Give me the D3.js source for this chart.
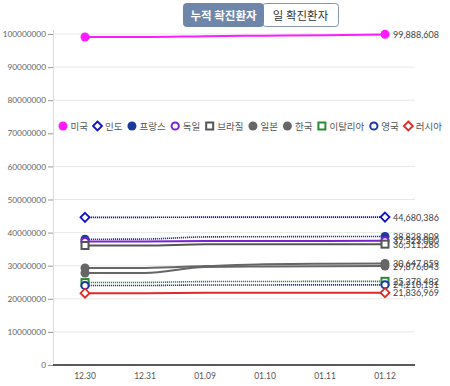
<!DOCTYPE html>
<html><head><meta charset="utf-8">
<script src="https://cdn.jsdelivr.net/npm/d3@7"></script>
<style>
body{margin:0;background:#fff;font-family:Lato,"Noto Sans CJK KR",sans-serif;}
svg{display:block}
</style></head>
<body><svg id="c" width="450" height="386"></svg>
<script>
const dates = ["12.30","12.31","01.09","01.10","01.11","01.12"];
const countries = ["미국","인도","프랑스","독일","브라질","일본","한국","이탈리아","영국","러시아"];
const usa     = [99100000, 99120000, 99350000, 99500000, 99650000, 99888608];
const india   = [44600000, 44610000, 44670000, 44675000, 44678000, 44680386];
const france  = [38000000, 38050000, 38700000, 38750000, 38800000, 38828809];
const germany = [37300000, 37320000, 37450000, 37480000, 37500000, 37523000];
const brazil  = [36100000, 36120000, 36450000, 36480000, 36500000, 36511286];
const japan   = [29300000, 29320000, 29900000, 30450000, 30600000, 30647859];
const korea   = [27800000, 27820000, 29600000, 29750000, 29850000, 29876043];
const italy   = [24900000, 24950000, 25200000, 25230000, 25260000, 25278482];
const uk      = [24000000, 24020000, 24180000, 24190000, 24200000, 24210131];
const russia  = [21700000, 21710000, 21800000, 21815000, 21826000, 21836969];
const yTicks  = [0,10000000,20000000,30000000,40000000,50000000,60000000,70000000,80000000,90000000,100000000];
const buttons = ["누적 확진환자","일 확진환자"];

const seriesValues = [usa,india,france,germany,brazil,japan,korea,italy,uk,russia];
const colors  = ["#ff1aff","#1010c8","#1c3a9e","#7a22d0","#555555","#666666","#666666","#2a8a36","#1c3a9e","#e02a2a"];
const shapes  = ["circleF","diamond","circleF","circleO","square","circleF","circleF","square","circleO","diamond"];
const dashed  = [false,true,true,false,false,false,false,true,true,false];

const svg = d3.select("#c");
const x = d3.scaleBand().domain(dates).range([55,415]);
const y = d3.scaleLinear().domain([0,100000000]).range([365,34]);
const cx = d => x(d)+x.bandwidth()/2;

// grid
svg.append("g").selectAll("line").data(yTicks.slice(1)).join("line")
  .attr("x1",53).attr("x2",415).attr("y1",d=>y(d)).attr("y2",d=>y(d))
  .attr("stroke","#e8e8e8").attr("stroke-width",1);
svg.append("line").attr("x1",53.5).attr("x2",53.5).attr("y1",30).attr("y2",365)
  .attr("stroke","#dcdcdc");

// y axis
const ya = svg.append("g").attr("transform","translate(53,0)")
  .call(d3.axisLeft(y).tickValues(yTicks).tickFormat(d3.format("d")).tickSize(5).tickPadding(2));
ya.select(".domain").remove();
ya.selectAll("line").attr("stroke","#999");
ya.selectAll("text").attr("fill","#666").style("font-size","8.3px").style("font-family","Lato, sans-serif");

// x axis
const xa = svg.append("g").attr("transform","translate(0,365)")
  .call(d3.axisBottom(x).tickSize(0).tickPadding(8));
xa.select(".domain").attr("stroke","#222").attr("stroke-width",1.5).attr("d","M53,0H415");
xa.selectAll("text").attr("fill","#555").style("font-size","8.5px").style("font-family","Lato, sans-serif");

// lines
const line = d3.line().x((d,i)=>cx(dates[i])).y(d=>y(d)).curve(d3.curveMonotoneX);
function marker(g, shape, color, px, py){
  if(shape==="circleF") g.append("circle").attr("cx",px).attr("cy",py).attr("r",4.5).attr("fill",color);
  else if(shape==="circleO") g.append("circle").attr("cx",px).attr("cy",py).attr("r",3.6).attr("fill","#fff").attr("stroke",color).attr("stroke-width",2);
  else if(shape==="square") g.append("rect").attr("x",px-3.5).attr("y",py-3.5).attr("width",7).attr("height",7).attr("fill","#fff").attr("stroke",color).attr("stroke-width",2);
  else if(shape==="diamond") g.append("path").attr("d",`M${px},${py-4.5}L${px+4.5},${py}L${px},${py+4.5}L${px-4.5},${py}Z`).attr("fill","#fff").attr("stroke",color).attr("stroke-width",1.8);
}
const fmt = d3.format(",");
seriesValues.forEach((vals,i)=>{
  const g = svg.append("g");
  g.append("path").attr("d",line(vals)).attr("fill","none").attr("stroke",colors[i])
    .attr("stroke-width",dashed[i]?1.6:2).attr("stroke-dasharray",dashed[i]?"1.2,0.8":null);
});
seriesValues.forEach((vals,i)=>{
  const g = svg.append("g");
  marker(g,shapes[i],colors[i],cx(dates[0]),y(vals[0]));
  marker(g,shapes[i],colors[i],cx(dates[dates.length-1]),y(vals[vals.length-1]));
  g.append("text").attr("x",393).attr("y",y(vals[vals.length-1])+3.5).text(fmt(vals[vals.length-1]))
    .attr("fill","#444").style("font-size","9px").style("font-family","Lato, sans-serif");
});

// legend
const lg = svg.append("g");
lg.append("rect").attr("x",54).attr("y",112).attr("width",392).attr("height",27).attr("fill","#fff");
let lx = 63;
countries.forEach((c,i)=>{
  const g = lg.append("g");
  marker(g,shapes[i],colors[i],lx,126);
  const t = g.append("text").attr("x",lx+7.5).attr("y",129.5).text(c).attr("fill","#555")
    .style("font-size","9.5px").style("font-family","'Noto Sans CJK KR', sans-serif");
  lx += 7.5 + t.node().getComputedTextLength() + 9.5;
});

// toggle buttons
const bg = svg.append("g");
bg.append("rect").attr("x",262.5).attr("y",3.5).attr("width",76).attr("height",23).attr("rx",3)
  .attr("fill","#fff").attr("stroke","#8796b0");
bg.append("rect").attr("x",183.5).attr("y",3.5).attr("width",80).attr("height",23).attr("rx",3)
  .attr("fill","#6f86ab").attr("stroke","#6f86ab");
bg.append("text").attr("x",223.5).attr("y",19.5).attr("text-anchor","middle").text(buttons[0])
  .attr("fill","#fff").style("font-size","11.5px").style("font-weight","bold").style("font-family","'Noto Sans CJK KR', sans-serif");
bg.append("text").attr("x",300.5).attr("y",19.5).attr("text-anchor","middle").text(buttons[1])
  .attr("fill","#333").style("font-size","11.5px").style("font-family","'Noto Sans CJK KR', sans-serif");
</script></body></html>
